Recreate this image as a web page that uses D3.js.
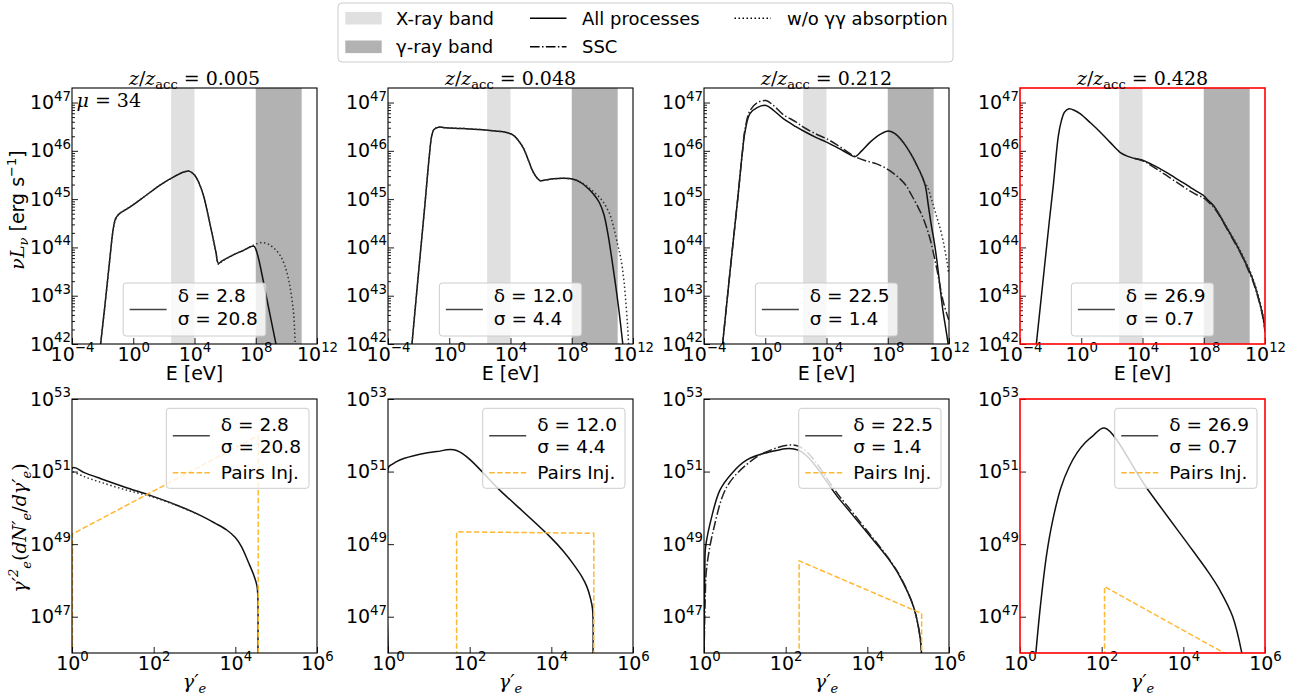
<!DOCTYPE html>
<html><head><meta charset="utf-8">
<script src="https://cdn.jsdelivr.net/npm/d3@7"></script>
<style>
body{margin:0;background:#fff}
text{font-family:"DejaVu Sans",sans-serif;fill:#000}
</style>
</head><body>
<script>
// ---------------- DATA (log10 values) ----------------
const zRatio = ["0.005","0.048","0.212","0.428"];
const deltas = ["2.8","12.0","22.5","26.9"];
const sigmas = ["20.8","4.4","1.4","0.7"];
const xrayBand = [300, 1e4];     // eV
const gammaBand = [1e8, 1e11];   // eV
const sedTicksX = [1e-4,1,1e4,1e8,1e12];
const sedTicksY = [1e42,1e43,1e44,1e45,1e46,1e47];
const eleTicksX = [1,1e2,1e4,1e6];
const eleTicksY = [1e47,1e49,1e51,1e53];

// SED panels: [log10 E(eV), log10 nuL_nu]
const sed1All = [[-2.15,41.95],[-1.85,42.8],[-1.55,43.7],[-1.3,44.4],[-1.15,44.6],[-0.9,44.7],[-0.2,44.84],[0.8,45.07],[1.75,45.29],[2.7,45.47],[3.3,45.56],[3.65,45.58],[4.0,45.5],[4.3,45.33],[4.6,45.06],[4.9,44.65],[5.15,44.28],[5.4,43.9],[5.56,43.67],[5.8,43.72],[6.5,43.84],[7.2,43.94],[7.7,44.02],[7.9,44.02],[8.1,43.87],[8.4,43.45],[8.7,42.97],[9.0,42.5],[9.35,41.95]];
const sed1Dot = [[-2.15,41.95],[-1.85,42.8],[-1.55,43.7],[-1.3,44.38],[-1.15,44.58],[-0.9,44.7],[-0.2,44.84],[0.8,45.07],[1.75,45.29],[2.7,45.47],[3.3,45.56],[3.65,45.58],[4.0,45.5],[4.3,45.33],[4.6,45.06],[4.9,44.65],[5.15,44.28],[5.4,43.9],[5.56,43.65],[5.8,43.71],[6.5,43.84],[7.2,43.94],[7.7,44.02],[8.0,44.07],[8.4,44.1],[8.8,44.07],[9.2,43.98],[9.6,43.83],[9.9,43.62],[10.15,43.33],[10.35,42.95],[10.48,42.6],[10.58,41.95]];
const sed2All = [[-2.45,41.95],[-2.0,43.5],[-1.6,44.85],[-1.3,45.9],[-1.15,46.3],[-1.0,46.44],[-0.7,46.49],[-0.3,46.48],[1.0,46.46],[2.0,46.44],[3.0,46.41],[3.75,46.38],[4.2,46.32],[4.5,46.22],[4.85,46.05],[5.15,45.82],[5.45,45.58],[5.75,45.43],[5.95,45.38],[6.2,45.39],[6.8,45.42],[7.5,45.43],[8.1,45.41],[8.6,45.34],[9.0,45.24],[9.4,45.11],[9.8,44.93],[10.1,44.68],[10.35,44.3],[10.6,43.8],[10.85,43.25],[11.1,42.65],[11.35,41.95]];
const sed2Dot = [[-2.45,41.95],[-2.0,43.5],[-1.6,44.85],[-1.3,45.9],[-1.15,46.3],[-1.0,46.44],[-0.7,46.49],[-0.3,46.48],[1.0,46.46],[2.0,46.44],[3.0,46.41],[3.75,46.38],[4.2,46.32],[4.5,46.22],[4.85,46.05],[5.15,45.82],[5.45,45.58],[5.75,45.43],[5.95,45.38],[6.2,45.39],[6.8,45.42],[7.5,45.43],[8.1,45.41],[8.6,45.35],[9.0,45.27],[9.4,45.16],[9.8,45.04],[10.1,44.92],[10.35,44.78],[10.6,44.58],[11.0,44.06],[11.2,43.78],[11.4,43.33],[11.55,42.8],[11.65,42.35],[11.72,41.95]];
const sed3All = [[-2.8,41.95],[-2.3,43.5],[-1.8,45.0],[-1.5,45.95],[-1.32,46.4],[-1.0,46.77],[-0.5,46.9],[0.05,46.94],[0.5,46.85],[1.2,46.66],[2.0,46.5],[2.5,46.41],[3.3,46.28],[4.0,46.18],[4.8,46.05],[5.5,45.93],[5.86,45.88],[6.3,46.0],[6.85,46.18],[7.5,46.34],[8.05,46.41],[8.5,46.35],[9.0,46.18],[9.5,45.94],[9.9,45.7],[10.2,45.5],[10.45,45.28],[10.65,44.87],[10.85,44.45],[11.0,44.18],[11.2,43.75],[11.4,43.22],[11.6,42.7],[11.8,42.3],[11.97,41.95]];
const sed3SSC = [[-2.8,41.95],[-2.3,43.5],[-1.8,45.0],[-1.5,45.95],[-1.32,46.45],[-1.0,46.83],[-0.5,47.0],[0.05,47.04],[0.5,46.95],[1.18,46.75],[2.0,46.6],[2.49,46.49],[3.3,46.35],[4.01,46.25],[4.7,46.12],[5.32,45.99],[5.86,45.88],[6.5,45.8],[7.28,45.73],[8.08,45.6],[8.8,45.42],[9.2,45.28],[9.56,45.08],[10.0,44.82],[10.32,44.6],[10.76,44.18],[11.2,43.56],[11.63,42.87],[11.98,42.5]];
const sed3Dot = [[8.5,46.35],[9.0,46.18],[9.5,45.94],[9.9,45.7],[10.2,45.5],[10.45,45.32],[10.6,45.25],[10.9,44.95],[11.2,44.63],[11.5,44.3],[11.85,43.74],[11.98,43.45]];
const sed4All = [[-2.95,41.95],[-2.5,43.3],[-2.1,44.5],[-1.82,45.3],[-1.5,46.3],[-1.3,46.62],[-1.1,46.8],[-0.8,46.87],[-0.4,46.83],[-0.08,46.77],[0.6,46.58],[1.23,46.39],[1.9,46.17],[2.53,45.97],[3.0,45.89],[3.5,45.84],[4.05,45.8],[4.6,45.72],[5.14,45.63],[5.7,45.53],[6.23,45.42],[6.7,45.33],[7.1,45.25],[7.6,45.15],[7.97,45.08],[8.3,44.97],[8.63,44.87],[9.0,44.69],[9.28,44.53],[9.7,44.3],[10.15,44.05],[10.5,43.83],[10.81,43.63],[11.15,43.38],[11.46,43.08],[11.7,42.8],[11.89,42.53],[12.0,42.3]];
const sed4SSC = [[3.5,45.84],[4.05,45.79],[4.6,45.69],[5.14,45.58],[5.7,45.46],[6.23,45.35],[6.7,45.25],[7.1,45.17],[7.6,45.08],[7.97,45.03],[8.3,44.94],[8.63,44.84],[9.0,44.67],[9.28,44.52],[9.7,44.28],[10.15,44.03],[10.5,43.82],[10.81,43.6],[11.15,43.35],[11.46,43.05],[11.7,42.78],[11.89,42.5],[12.0,42.25]];
const sed4Dot = [[8.63,44.87],[9.0,44.7],[9.28,44.55],[9.7,44.32],[10.15,44.08],[10.5,43.86],[10.81,43.66],[11.15,43.41],[11.46,43.11],[11.7,42.84],[11.89,42.57],[12.0,42.35]];

// Electron panels: [log10 gamma', log10 gamma'^2 dN/dgamma']
const ele1All = [[0.01,45.9],[0.015,51.1],[0.3,50.97],[0.69,50.81],[1.3,50.57],[1.95,50.33],[2.6,50.06],[3.13,49.8],[3.5,49.58],[3.79,49.39],[4.0,49.18],[4.15,48.93],[4.32,48.5],[4.45,48.15],[4.53,47.85],[4.55,47.6],[4.553,45.9]];
const ele1Dot = [[0.02,51.0],[0.3,50.86],[0.69,50.71],[1.3,50.5],[1.95,50.31],[2.6,50.05],[3.13,49.8]];
const ele1Inj = [[0.01,45.9],[0.01,49.28],[4.56,51.99],[4.56,45.9]];
const ele2All = [[0.01,45.9],[0.015,51.12],[0.1,51.2],[0.29,51.32],[0.78,51.48],[1.19,51.55],[1.68,51.58],[2.8,50.42],[3.97,49.2],[4.3,48.8],[4.54,48.45],[4.75,48.1],[4.87,47.83],[4.96,47.5],[5.01,47.2],[5.02,45.9]];
const ele2Inj = [[1.68,45.9],[1.68,49.34],[5.04,49.3],[5.04,45.9]];
const ele3All = [[0.0,45.9],[0.02,48.3],[0.04,48.93],[0.19,49.76],[0.39,50.49],[0.68,50.95],[1.05,51.32],[1.54,51.52],[2.31,51.59],[3.33,50.22],[4.15,49.11],[4.5,48.62],[4.8,48.1],[5.13,47.28],[5.29,46.45],[5.33,45.9]];
const ele3SSC = [[0.0,45.9],[0.03,47.5],[0.06,48.29],[0.23,49.39],[0.56,50.58],[1.05,51.2],[1.54,51.55],[2.31,51.7],[3.33,50.3],[4.15,49.15],[4.5,48.64],[4.8,48.12],[5.13,47.28],[5.29,46.45],[5.33,45.9]];
const ele3Inj = [[2.33,45.9],[2.33,48.54],[5.33,47.09],[5.33,45.9]];
const ele4All = [[0.38,45.9],[0.5,47.3],[0.65,48.7],[0.8,49.65],[1.0,50.55],[1.2,51.12],[1.4,51.52],[1.6,51.8],[1.8,52.0],[2.07,52.2],[3.12,50.52],[4.24,48.81],[4.6,48.25],[4.89,47.74],[5.21,47.0],[5.45,45.9]];
const ele4Inj = [[2.07,45.9],[2.07,47.83],[5.08,45.95]];

const sedSets = [
  {all:sed1All, ssc:null, dot:sed1Dot},
  {all:sed2All, ssc:null, dot:sed2Dot},
  {all:sed3All, ssc:sed3SSC, dot:sed3Dot},
  {all:sed4All, ssc:sed4SSC, dot:sed4Dot}];
const eleSets = [
  {all:ele1All, ssc:null, dot:ele1Dot, inj:ele1Inj},
  {all:ele2All, ssc:null, dot:null, inj:ele2Inj},
  {all:ele3All, ssc:ele3SSC, dot:null, inj:ele3Inj},
  {all:ele4All, ssc:null, dot:null, inj:ele4Inj}];

// ---------------- LAYOUT / STYLE ----------------
const W=1297,H=700, PW=245;
const panelLeft=[72,388,704,1020];
const topTop=88, topBot=344, botTop=399, botBot=653;
const xrayColor="#e0e0e0", gammaColor="#b2b2b2";
const injColor="#ffb833";
const TF=19, LF=18.5;
const DASHDOT="9.6,2.4,1.5,2.4", DOT="1.5,2.5", DASH="5.5,2.4";

const svg=d3.select("body").append("svg").attr("width",W).attr("height",H);
const defs=svg.append("defs");

function supTicks(sel,size){
  sel.each(function(d){
    const t=d3.select(this);
    const e=Math.round(Math.log10(d));
    t.text(null).attr("font-size",size).attr("font-family","DejaVu Sans");
    t.append("tspan").text("10");
    t.append("tspan").attr("dy",-0.45*size).attr("font-size",0.7*size).text(String(e).replace("-","\u2212"));
  });
}

function drawAxes(g,xs,ys,xt,yt,yMinor){
  const y1=ys.range()[0];
  const ax=g.append("g").attr("transform",`translate(0,${y1})`)
    .call(d3.axisBottom(xs).tickValues(xt).tickSizeInner(-6).tickSizeOuter(0).tickPadding(3));
  ax.select(".domain").remove();
  supTicks(ax.selectAll(".tick text"),TF);
  const ay=g.append("g").attr("transform",`translate(${xs.range()[0]},0)`)
    .call(d3.axisLeft(ys).tickValues(yt).tickSizeInner(-6).tickSizeOuter(0).tickPadding(1));
  ay.select(".domain").remove();
  supTicks(ay.selectAll(".tick text"),TF);
  if(yMinor){
    const am=g.append("g").attr("transform",`translate(${xs.range()[0]},0)`)
      .call(d3.axisLeft(ys).tickValues(yMinor).tickSizeInner(-3).tickSizeOuter(0).tickFormat(""));
    am.select(".domain").remove();
  }
  g.selectAll(".tick line").attr("stroke","#000").attr("stroke-width",0.9);
}

function mkLine(xs,ys,curve){
  return d3.line().x(d=>xs(Math.pow(10,d[0]))).y(d=>ys(Math.pow(10,d[1]))).curve(curve||d3.curveCatmullRom.alpha(0.5));
}

function measure(str,size){
  const t=svg.append("text").attr("font-size",size).text(str);
  const w=t.node().getComputedTextLength(); t.remove(); return w;
}

// ---------------- TOP ROW: SEDs ----------------
const yMinorTop=[];
for(let n=42;n<=46;n++) for(let k=2;k<=9;k++) yMinorTop.push(k*Math.pow(10,n));

sedSets.forEach((s,i)=>{
  const x0=panelLeft[i];
  const xs=d3.scaleLog().domain([1e-4,1e12]).range([x0,x0+PW]);
  const ys=d3.scaleLog().domain([1e42,2e47]).range([topBot,topTop]);
  const g=svg.append("g");
  defs.append("clipPath").attr("id","ct"+i).append("rect").attr("x",x0).attr("y",topTop).attr("width",PW).attr("height",topBot-topTop);
  const pg=g.append("g").attr("clip-path",`url(#ct${i})`);
  pg.append("rect").attr("x",xs(xrayBand[0])).attr("width",xs(xrayBand[1])-xs(xrayBand[0])).attr("y",topTop).attr("height",topBot-topTop).attr("fill",xrayColor);
  pg.append("rect").attr("x",xs(gammaBand[0])).attr("width",xs(gammaBand[1])-xs(gammaBand[0])).attr("y",topTop).attr("height",topBot-topTop).attr("fill",gammaColor);
  const L=mkLine(xs,ys);
  pg.append("path").attr("d",L(s.all)).attr("fill","none").attr("stroke","#111").attr("stroke-width",1.5);
  if(s.ssc) pg.append("path").attr("d",L(s.ssc)).attr("fill","none").attr("stroke","#222").attr("stroke-width",1.5).attr("stroke-dasharray",DASHDOT);
  if(s.dot) pg.append("path").attr("d",L(s.dot)).attr("fill","none").attr("stroke","#333").attr("stroke-width",1.5).attr("stroke-dasharray",DOT);
  drawAxes(g,xs,ys,sedTicksX,sedTicksY,yMinorTop);
  g.append("rect").attr("x",x0).attr("y",topTop).attr("width",PW).attr("height",topBot-topTop).attr("fill","none")
    .attr("stroke",i===3?"#ff0000":"#000").attr("stroke-width",i===3?1.6:1.1);
  // legend
  const l1=`\u03b4 = ${deltas[i]}`, l2=`\u03c3 = ${sigmas[i]}`;
  const tw=Math.max(measure(l1,LF),measure(l2,LF));
  const bw=6.5+37+11+tw+8, bh=53, bx=x0+PW/2-bw/2, by=topBot-8-bh;
  const lg=g.append("g");
  lg.append("rect").attr("x",bx).attr("y",by).attr("width",bw).attr("height",bh).attr("rx",3)
    .attr("fill","#fff").attr("fill-opacity",0.8).attr("stroke","#cccccc").attr("stroke-width",1);
  lg.append("line").attr("x1",bx+6.5).attr("x2",bx+43.5).attr("y1",by+26.5).attr("y2",by+26.5).attr("stroke","#444").attr("stroke-width",1.5);
  lg.append("text").attr("x",bx+54.5).attr("y",by+18.5).attr("font-size",LF).text(l1);
  lg.append("text").attr("x",bx+54.5).attr("y",by+42).attr("font-size",LF).text(l2);
  // title
  const t=g.append("text").attr("x",x0+PW/2).attr("y",84.5).attr("text-anchor","middle").attr("font-size",19).style("font-family","DejaVu Serif");
  t.append("tspan").attr("font-style","italic").text("z");
  t.append("tspan").text("/");
  t.append("tspan").attr("font-style","italic").text("z");
  t.append("tspan").attr("dy",4).attr("font-size",13).text("acc");
  t.append("tspan").attr("dy",-4).text(" = "+zRatio[i]);
  // x label
  g.append("text").attr("x",x0+PW/2).attr("y",380).attr("text-anchor","middle").attr("font-size",TF).text("E [eV]");
});

// mu label
{
  const t=svg.append("text").attr("x",76.5).attr("y",106.5).attr("font-size",19).style("font-family","DejaVu Serif");
  t.append("tspan").attr("font-style","italic").text("\u03bc");
  t.append("tspan").text(" = 34");
}
// y label top
{
  const t=svg.append("text").attr("transform","translate(24,210) rotate(-90)").attr("text-anchor","middle").attr("font-size",TF);
  t.append("tspan").style("font-family","DejaVu Serif").attr("font-style","italic").text("\u03bdL");
  t.append("tspan").style("font-family","DejaVu Serif").attr("font-style","italic").attr("dy",4).attr("font-size",13).text("\u03bd");
  t.append("tspan").attr("dy",-4).text(" [erg s");
  t.append("tspan").attr("dy",-8).attr("font-size",13).text("\u22121");
  t.append("tspan").attr("dy",8).text("]");
}

// ---------------- BOTTOM ROW: electrons ----------------
eleSets.forEach((s,i)=>{
  const x0=panelLeft[i];
  const xs=d3.scaleLog().domain([1,1e6]).range([x0,x0+PW]);
  const ys=d3.scaleLog().domain([1e46,1e53]).range([botBot,botTop]);
  const g=svg.append("g");
  defs.append("clipPath").attr("id","cb"+i).append("rect").attr("x",x0).attr("y",botTop).attr("width",PW).attr("height",botBot-botTop);
  const pg=g.append("g").attr("clip-path",`url(#cb${i})`);
  const L=mkLine(xs,ys);
  const Llin=mkLine(xs,ys,d3.curveLinear);
  pg.append("path").attr("d",L(s.all)).attr("fill","none").attr("stroke","#111").attr("stroke-width",1.5);
  if(s.ssc) pg.append("path").attr("d",L(s.ssc)).attr("fill","none").attr("stroke","#222").attr("stroke-width",1.5).attr("stroke-dasharray",DASHDOT);
  if(s.dot) pg.append("path").attr("d",L(s.dot)).attr("fill","none").attr("stroke","#333").attr("stroke-width",1.5).attr("stroke-dasharray",DOT);
  pg.append("path").attr("d",Llin(s.inj)).attr("fill","none").attr("stroke",injColor).attr("stroke-width",1.5).attr("stroke-dasharray",DASH);
  drawAxes(g,xs,ys,eleTicksX,eleTicksY,null);
  g.append("rect").attr("x",x0).attr("y",botTop).attr("width",PW).attr("height",botBot-botTop).attr("fill","none")
    .attr("stroke",i===3?"#ff0000":"#000").attr("stroke-width",i===3?1.6:1.1);
  // legend
  const l1=`\u03b4 = ${deltas[i]}`, l2=`\u03c3 = ${sigmas[i]}`, l3="Pairs Inj.";
  const tw=Math.max(measure(l1,LF),measure(l2,LF),measure(l3,LF));
  const bw=6.5+37+11+tw+8, bh=80, bx=x0+PW-8-bw, by=botTop+9.3;
  const lg=g.append("g");
  lg.append("rect").attr("x",bx).attr("y",by).attr("width",bw).attr("height",bh).attr("rx",3)
    .attr("fill","#fff").attr("fill-opacity",0.8).attr("stroke","#cccccc").attr("stroke-width",1);
  lg.append("line").attr("x1",bx+6.5).attr("x2",bx+43.5).attr("y1",by+27.4).attr("y2",by+27.4).attr("stroke","#444").attr("stroke-width",1.5);
  lg.append("line").attr("x1",bx+6.5).attr("x2",bx+43.5).attr("y1",by+64.4).attr("y2",by+64.4).attr("stroke",injColor).attr("stroke-width",1.5).attr("stroke-dasharray",DASH);
  lg.append("text").attr("x",bx+54.5).attr("y",by+23).attr("font-size",LF).text(l1);
  lg.append("text").attr("x",bx+54.5).attr("y",by+44.5).attr("font-size",LF).text(l2);
  lg.append("text").attr("x",bx+54.5).attr("y",by+71).attr("font-size",LF).text(l3);
  // x label  (gamma'_e)
  const t=g.append("text").attr("x",x0+PW/2).attr("y",688).attr("text-anchor","middle").attr("font-size",TF).style("font-family","DejaVu Serif").attr("font-style","italic");
  t.append("tspan").text("\u03b3\u2032");
  t.append("tspan").attr("dy",5).attr("font-size",13).text("e");
});
// y label bottom
{
  const t=svg.append("text").attr("transform","translate(26,528) rotate(-90)").attr("text-anchor","middle").attr("font-size",TF).style("font-family","DejaVu Serif").attr("font-style","italic");
  t.append("tspan").text("\u03b3\u2032");
  t.append("tspan").attr("dy",-8).attr("font-size",13).text("2");
  t.append("tspan").attr("dy",13).attr("font-size",13).text("e");
  t.append("tspan").attr("dy",-5).attr("font-style","normal").text("(");
  t.append("tspan").text("dN\u2032");
  t.append("tspan").attr("dy",5).attr("font-size",13).text("e");
  t.append("tspan").attr("dy",-5).attr("font-style","normal").text("/");
  t.append("tspan").text("d\u03b3\u2032");
  t.append("tspan").attr("dy",5).attr("font-size",13).text("e");
  t.append("tspan").attr("dy",-5).attr("font-style","normal").text(")");
}

// ---------------- FIGURE LEGEND ----------------
{
  const g=svg.append("g");
  const FF=18;
  g.append("rect").attr("x",338).attr("y",3).attr("width",615).attr("height",59).attr("rx",4)
    .attr("fill","#fff").attr("stroke","#cccccc").attr("stroke-width",1);
  const r1=18.2, r2=46.8;
  g.append("rect").attr("x",345.3).attr("y",r1-6.3).attr("width",36.4).attr("height",12.6).attr("fill",xrayColor);
  g.append("rect").attr("x",345.3).attr("y",r2-6.3).attr("width",36.4).attr("height",12.6).attr("fill",gammaColor);
  g.append("text").attr("x",396).attr("y",r1+6.5).attr("font-size",FF).text("X-ray band");
  g.append("text").attr("x",396).attr("y",r2+6.5).attr("font-size",FF).text("\u03b3-ray band");
  g.append("line").attr("x1",530).attr("x2",566.5).attr("y1",r1).attr("y2",r1).attr("stroke","#000").attr("stroke-width",1.5);
  g.append("line").attr("x1",530).attr("x2",566.5).attr("y1",r2).attr("y2",r2).attr("stroke","#000").attr("stroke-width",1.5).attr("stroke-dasharray",DASHDOT);
  g.append("text").attr("x",582).attr("y",r1+6.5).attr("font-size",FF).text("All processes");
  g.append("text").attr("x",582).attr("y",r2+6.5).attr("font-size",FF).text("SSC");
  g.append("line").attr("x1",734.5).attr("x2",771).attr("y1",r1).attr("y2",r1).attr("stroke","#000").attr("stroke-width",1.5).attr("stroke-dasharray",DOT);
  g.append("text").attr("x",787).attr("y",r1+6.5).attr("font-size",FF).text("w/o \u03b3\u03b3 absorption");
}
</script>
</body></html>
